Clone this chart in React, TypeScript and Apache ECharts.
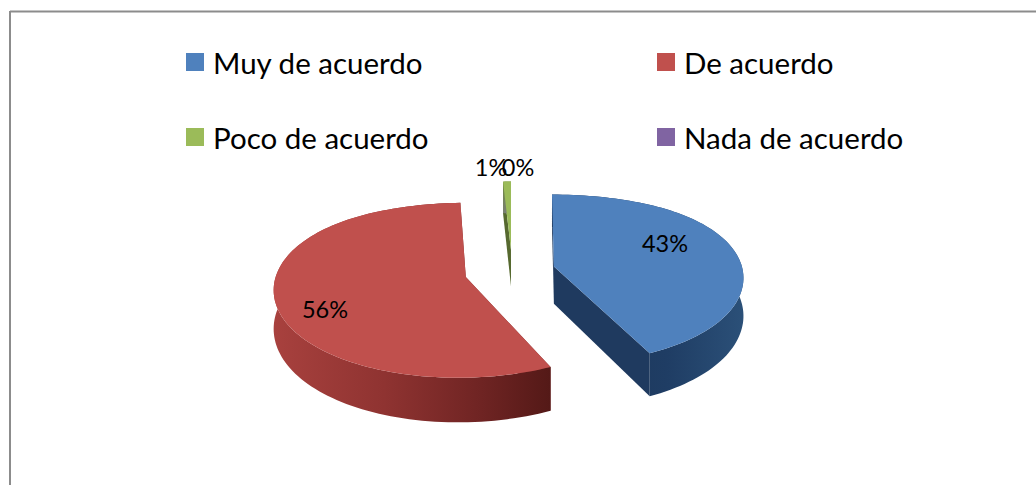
import React, { useEffect, useRef } from "react";
import * as echarts from "echarts";

const CATEGORIES = ["Muy de acuerdo", "De acuerdo", "Poco de acuerdo", "Nada de acuerdo"];
const VALUES = [43.1, 56.2, 0.7, 0];
const COLORS = ["#4f81bd", "#c0504d", "#9bbb59", "#8064a2"];
const LEGEND_LEFT = [CATEGORIES[0], CATEGORIES[2]];
const LEGEND_RIGHT = [CATEGORIES[1], CATEGORIES[3]];

const FONT = "Lato";
const TOTAL = VALUES.reduce((a, b) => a + b, 0);
const EXPLODE = 0.25;
const CX = 507;
const CY = 272;
const DEPTH = 37.5;

// perspective projection of the tilted pie's plane
function project(U: number, V: number, drop = 0) {
  const sx = 189 + 19.5 * V + 10.5 * V * V;
  const w = 1 - 0.15 * V;
  return [CX + sx * U, CY + (84 * V) / w + (drop * DEPTH) / w];
}

const wallFills: any[] = [
  new echarts.graphic.LinearGradient(0, 0, 1, 0, [
    { offset: 0, color: "#1c3557" },
    { offset: 0.6, color: "#1f3d64" },
    { offset: 1, color: "#2b5078" },
  ]),
  new echarts.graphic.LinearGradient(0, 0, 1, 0, [
    { offset: 0, color: "#a8413e" },
    { offset: 0.4, color: "#8f3331" },
    { offset: 0.75, color: "#6f2423" },
    { offset: 1, color: "#541917" },
  ]),
  new echarts.graphic.LinearGradient(0, 0, 0, 1, [
    { offset: 0, color: "#6f8a3f" },
    { offset: 1, color: "#7a7f74" },
  ]),
  "#5f4a7a",
];
const cutFills = ["#1f3a5f", "#7a2a28", "#56692f", "#5f4a7a"];
const labelOffsets = [
  [665, 243],
  [325, 309],
  [491, 167],
  [518, 167],
];
const sliceNudge = [
  [1, -1],
  [5, 0],
  [5, -2],
  [0, 0],
];

function startFraction(i: number) {
  return VALUES.slice(0, i).reduce((a, b) => a + b, 0) / TOTAL;
}

function makeRender(i: number) {
  return (_params: any, api: any) => {
    const value = api.value(0);
    const start = startFraction(i) * Math.PI * 2;
    const end = start + (value / TOTAL) * Math.PI * 2;
    const mid = (start + end) / 2;
    const ox = EXPLODE * Math.sin(mid);
    const oy = -EXPLODE * Math.cos(mid);
    const [nx, ny] = sliceNudge[i];
    const pt = (t: number, drop = 0, r = 1) => {
      const p = project(ox + r * Math.sin(t), oy - r * Math.cos(t), drop);
      return [p[0] + nx, p[1] + ny];
    };
    const children: any[] = [];
    if (value > 0) {
      const steps = Math.max(4, Math.ceil((end - start) / 0.03));
      const topArc: number[][] = [];
      const botArc: number[][] = [];
      for (let s = 0; s <= steps; s++) {
        const t = start + ((end - start) * s) / steps;
        topArc.push(pt(t));
        botArc.push(pt(t, 1));
      }
      const apex = pt(0, 0, 0);
      const apexB = pt(0, 1, 0);
      const cut = cutFills[i];
      children.push({
        type: "polygon",
        shape: { points: [apex, topArc[0], botArc[0], apexB] },
        style: { fill: cut },
      });
      children.push({
        type: "polygon",
        shape: { points: [apex, topArc[steps], botArc[steps], apexB] },
        style: { fill: cut },
      });
      children.push({
        type: "polygon",
        shape: { points: [...topArc, ...botArc.slice().reverse()] },
        style: { fill: wallFills[i] },
      });
      children.push({
        type: "polygon",
        shape: { points: [apex, ...topArc] },
        style: { fill: COLORS[i] },
      });
    }
    const [lx, ly] = labelOffsets[i];
    children.push({
      type: "text",
      x: lx,
      y: ly,
      z2: 50,
      style: {
        text: `${Math.round(value)}%`,
        fill: "#000",
        font: `23.5px ${FONT}`,
        align: "center",
        verticalAlign: "middle",
      },
    });
    return { type: "group", children };
  };
}

const legendBase = {
  orient: "vertical" as const,
  top: 46,
  icon: "rect",
  itemWidth: 18,
  itemHeight: 18,
  itemGap: 43,
  selectedMode: false,
  padding: 0,
  textStyle: {
    fontFamily: FONT,
    fontSize: 29.5,
    color: "#000",
    padding: [0, 0, 0, 4],
    lineHeight: 32,
  },
};

export default function App() {
  const ref = useRef<HTMLDivElement>(null);
  useEffect(() => {
    document.body.style.margin = "0";
    const chart = echarts.init(ref.current!, undefined, { renderer: "svg" });
    chart.setOption({
      animation: false,
      backgroundColor: "#ffffff",
      legend: [
        { ...legendBase, left: 186, data: LEGEND_LEFT },
        { ...legendBase, left: 657, data: LEGEND_RIGHT },
      ],
      graphic: [
        {
          type: "line",
          silent: true,
          shape: { x1: 10, y1: 11.5, x2: 1036, y2: 11.5 },
          style: { stroke: "#8c8c8c", lineWidth: 2 },
        },
        {
          type: "line",
          silent: true,
          shape: { x1: 10, y1: 11, x2: 10, y2: 485 },
          style: { stroke: "#8c8c8c", lineWidth: 2 },
        },
      ],
      series: CATEGORIES.map((name, i) => ({
        type: "custom",
        name,
        coordinateSystem: "none",
        itemStyle: { color: COLORS[i] },
        z: [3, 2, 1, 1][i],
        silent: true,
        data: [[VALUES[i]]],
        renderItem: makeRender(i),
      })),
    });
    return () => chart.dispose();
  }, []);
  return <div ref={ref} style={{ width: 1036, height: 485 }} />;
}
